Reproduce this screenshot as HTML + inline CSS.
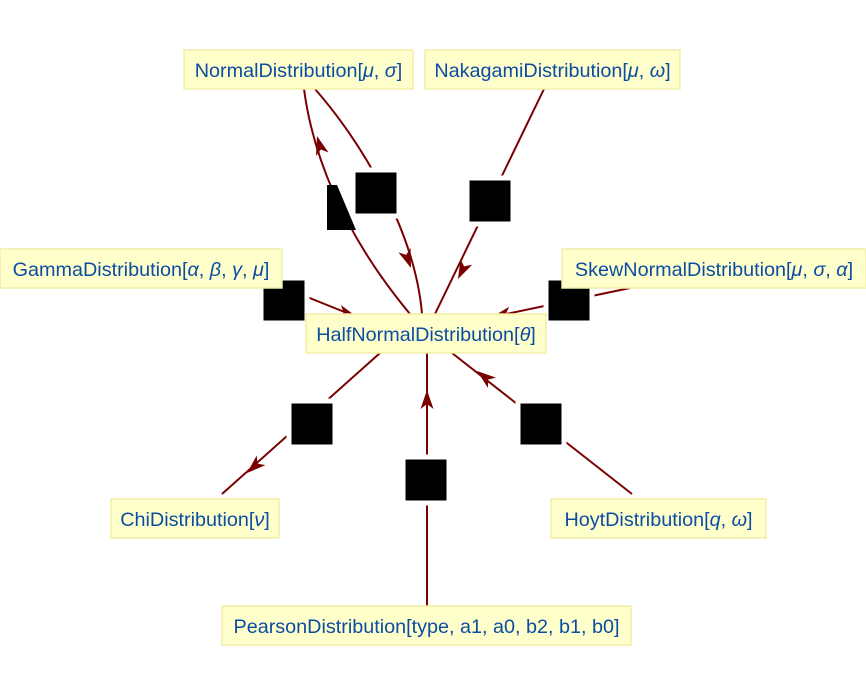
<!DOCTYPE html>
<html><head><meta charset="utf-8"><style>
html,body{margin:0;padding:0;background:#fff;width:866px;height:698px;overflow:hidden}
text{font-family:"Liberation Sans",sans-serif;font-size:19.8px;fill:#0b4da2}
.b{fill:#ffffcc;stroke:#f2eea8;stroke-width:1.5}
.e{fill:none;stroke:#7a0000;stroke-width:2}
.s{fill:#000;stroke:#fff;stroke-width:5}
.h{fill:#7a0000}
</style></head><body>
<svg width="866" height="698" xmlns="http://www.w3.org/2000/svg">
<!-- edges -->
<path class="e" d="M304,89 C312,150 340,230 410,314"/>
<path class="e" d="M315,89 C360,140 415,230 422,314"/>
<path class="e" d="M544,89 L435,314"/>
<path class="e" d="M220,262 L357,317"/>
<path class="e" d="M630,288 L492,317"/>
<path class="e" d="M380,353 L222,494"/>
<path class="e" d="M632,494 L452,353"/>
<path class="e" d="M427,606 L427,353"/>
<!-- arrowheads -->
<g class="h">
<path transform="translate(317,136) rotate(-106)" d="M0,0 L-19,-6.5 L-14,0 L-19,6.5 Z"/>
<path transform="translate(411,268) rotate(70)" d="M0,0 L-19,-6.5 L-14,0 L-19,6.5 Z"/>
<path transform="translate(458,279) rotate(116)" d="M0,0 L-19,-6.5 L-14,0 L-19,6.5 Z"/>
<path transform="translate(357,317) rotate(18)" d="M0,0 L-19,-6.5 L-14,0 L-19,6.5 Z"/>
<path transform="translate(492,317) rotate(168)" d="M0,0 L-19,-6.5 L-14,0 L-19,6.5 Z"/>
<path transform="translate(247,473) rotate(138)" d="M0,0 L-19,-6.5 L-14,0 L-19,6.5 Z"/>
<path transform="translate(477,371) rotate(-142)" d="M0,0 L-19,-6.5 L-14,0 L-19,6.5 Z"/>
<path transform="translate(427,390) rotate(-90)" d="M0,0 L-19,-6.5 L-14,0 L-19,6.5 Z"/>
</g>
<!-- squares -->
<rect class="s" x="353" y="170" width="46" height="46"/>
<rect class="s" x="467" y="178" width="46" height="46"/>
<polygon points="327,185 337,185 356,230 327,230" fill="#000"/>
<rect class="s" x="261" y="278" width="46" height="45"/>
<rect class="s" x="546" y="278" width="46" height="45"/>
<rect class="s" x="289" y="401" width="46" height="46"/>
<rect class="s" x="518" y="401" width="46" height="46"/>
<rect class="s" x="403" y="457" width="46" height="46"/>
<!-- labels -->
<rect class="b" x="184" y="50" width="229" height="39"/>
<text x="298.5" y="77" text-anchor="middle">NormalDistribution[<tspan font-style="italic">μ</tspan>, <tspan font-style="italic">σ</tspan>]</text>
<rect class="b" x="425" y="50" width="255" height="39"/>
<text x="552.5" y="77" text-anchor="middle">NakagamiDistribution[<tspan font-style="italic">μ</tspan>, <tspan font-style="italic">ω</tspan>]</text>
<rect class="b" x="0" y="249" width="282" height="39"/>
<text x="141" y="276" text-anchor="middle">GammaDistribution[<tspan font-style="italic">α</tspan>, <tspan font-style="italic">β</tspan>, <tspan font-style="italic">γ</tspan>, <tspan font-style="italic">μ</tspan>]</text>
<rect class="b" x="562" y="249" width="304" height="39"/>
<text x="714" y="276" text-anchor="middle">SkewNormalDistribution[<tspan font-style="italic">μ</tspan>, <tspan font-style="italic">σ</tspan>, <tspan font-style="italic">α</tspan>]</text>
<rect class="b" x="306" y="314" width="240" height="39"/>
<text x="426" y="341" text-anchor="middle">HalfNormalDistribution[<tspan font-style="italic">θ</tspan>]</text>
<rect class="b" x="111" y="499" width="168" height="39"/>
<text x="195" y="526" text-anchor="middle">ChiDistribution[<tspan font-style="italic">ν</tspan>]</text>
<rect class="b" x="551" y="499" width="215" height="39"/>
<text x="658.5" y="526" text-anchor="middle">HoytDistribution[<tspan font-style="italic">q</tspan>, <tspan font-style="italic">ω</tspan>]</text>
<rect class="b" x="222" y="606" width="409" height="39"/>
<text x="426.5" y="633" text-anchor="middle">PearsonDistribution[type, a1, a0, b2, b1, b0]</text>
</svg>
</body></html>
